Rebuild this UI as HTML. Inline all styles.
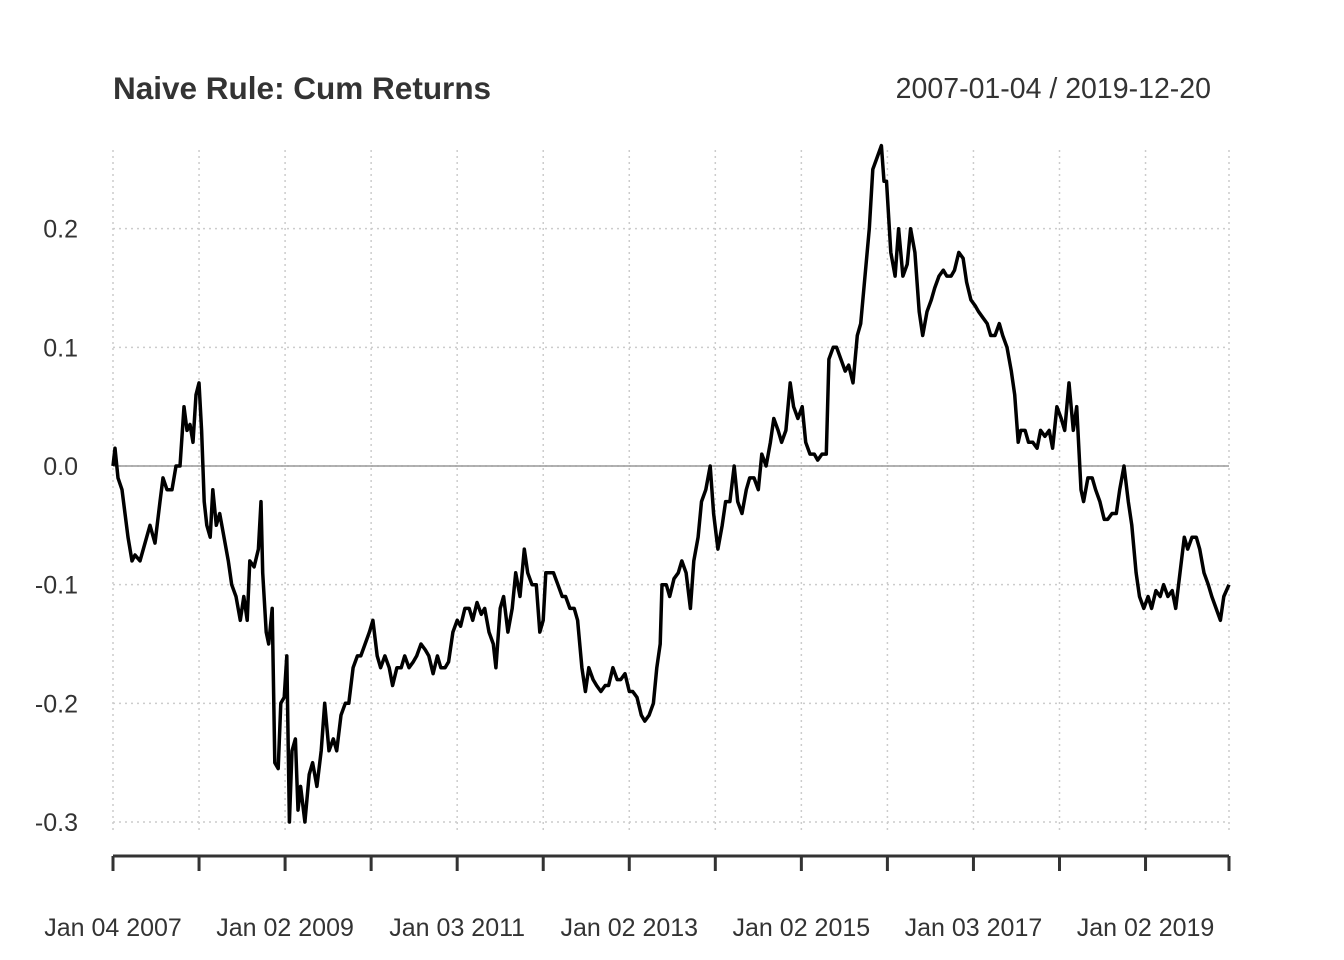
<!DOCTYPE html>
<html><head><meta charset="utf-8">
<style>
html,body{margin:0;padding:0;background:#fff;}
svg{display:block;font-family:"Liberation Sans",Arial,sans-serif;}
</style></head>
<body>
<svg id="chart" width="1344" height="960" viewBox="0 0 1344 960" xmlns="http://www.w3.org/2000/svg">
<rect width="1344" height="960" fill="#fff"/>
<text x="113" y="99" font-size="31.5" font-weight="bold" fill="#333">Naive Rule: Cum Returns</text>
<text x="1211" y="98" font-size="28.5" text-anchor="end" fill="#333">2007-01-04 / 2019-12-20</text>
<g id="grid"></g>
<g id="yaxis"></g>
<g id="xaxis"></g>
<line x1="113" x2="1229" y1="466" y2="466" stroke="#999" stroke-width="1.5"/>
<path id="series" fill="none" stroke="#000" stroke-width="3.5" stroke-linejoin="round"/>
</svg>
<script>
// years since 2007-01-04
const dates=[0,0.023,0.058,0.105,0.139,0.174,0.221,0.256,0.314,0.372,0.430,0.488,0.546,0.581,0.627,0.686,0.732,0.779,0.825,0.860,0.895,0.930,0.965,1.0,
1.03,1.06,1.09,1.13,1.16,1.20,1.24,1.29,1.34,1.38,1.43,1.48,1.52,1.56,1.59,1.64,1.69,1.72,1.74,1.78,1.81,1.85,1.88,1.92,1.95,1.99,2.02,2.05,2.08,2.12,2.15,2.18,2.23,2.28,
2.32,2.37,2.42,2.46,2.51,2.56,2.60,2.65,2.70,2.74,2.79,2.84,2.88,2.93,2.98,3.02,3.07,3.11,3.16,3.21,3.25,3.30,3.35,3.39,3.44,3.49,3.53,3.58,3.63,3.67,3.72,3.77,3.81,3.86,3.90,3.95,4.00,4.04,4.09,4.14,4.18,4.23,4.28,4.32,4.37,4.42,4.45,4.50,4.54,4.59,4.64,4.68,4.73,4.78,4.82,4.87,4.92,4.96,5.00,5.03,5.08,5.12,5.17,5.22,5.26,5.31,5.36,5.40,5.45,5.49,5.53,5.58,5.62,5.67,5.72,5.76,5.81,5.86,5.90,5.95,6.00,6.04,6.09,6.14,6.18,6.23,6.28,6.32,6.36,6.38,6.43,6.47,6.52,6.57,6.61,6.66,6.71,6.75,6.80,6.84,6.89,6.94,6.98,7.03,7.08,7.12,7.17,7.22,7.26,7.31,7.36,7.40,7.45,7.50,7.54,7.59,7.64,7.68,7.73,7.77,7.82,7.87,7.91,7.96,8.01,8.05,8.10,8.15,8.19,8.24,8.29,8.32,8.37,8.41,8.46,8.51,8.55,8.60,8.65,8.69,8.74,8.79,8.83,8.88,8.93,8.96,8.99,9.04,9.09,9.13,9.18,9.23,9.27,9.32,9.37,9.41,9.46,9.51,9.55,9.60,9.65,9.69,9.74,9.78,9.83,9.88,9.92,9.97,10.02,10.06,10.11,10.16,10.20,10.25,10.30,10.34,10.39,10.44,10.48,10.52,10.55,10.60,10.64,10.69,10.74,10.78,10.83,10.88,10.92,10.97,11.02,11.06,11.11,11.16,11.20,11.25,11.28,11.33,11.38,11.42,11.47,11.52,11.56,11.61,11.66,11.70,11.75,11.80,11.84,11.89,11.93,11.98,12.03,12.07,12.12,12.17,12.21,12.26,12.31,12.35,12.40,12.45,12.49,12.54,12.59,12.63,12.68,12.73,12.77,12.82,12.87,12.91,12.97];
const values=[0,0.015,-0.01,-0.02,-0.04,-0.06,-0.08,-0.075,-0.08,-0.065,-0.05,-0.065,-0.03,-0.01,-0.02,-0.02,0,0,0.05,0.03,0.035,0.02,0.06,0.07,
0.03,-0.03,-0.05,-0.06,-0.02,-0.05,-0.04,-0.06,-0.08,-0.1,-0.11,-0.13,-0.11,-0.13,-0.08,-0.085,-0.07,-0.03,-0.09,-0.14,-0.15,-0.12,-0.25,-0.255,-0.2,-0.195,-0.16,-0.3,-0.24,-0.23,-0.29,-0.27,-0.3,-0.26,
-0.25,-0.27,-0.24,-0.2,-0.24,-0.23,-0.24,-0.21,-0.2,-0.2,-0.17,-0.16,-0.16,-0.15,-0.14,-0.13,-0.16,-0.17,-0.16,-0.17,-0.185,-0.17,-0.17,-0.16,-0.17,-0.165,-0.16,-0.15,-0.155,-0.16,-0.175,-0.16,-0.17,-0.17,-0.165,-0.14,-0.13,-0.135,-0.12,-0.12,-0.13,-0.115,-0.125,-0.12,-0.14,-0.15,-0.17,-0.12,-0.11,-0.14,-0.12,-0.09,-0.11,-0.07,-0.09,-0.1,-0.1,-0.14,-0.13,-0.09,-0.09,-0.09,-0.1,-0.11,-0.11,-0.12,-0.12,-0.13,-0.17,-0.19,-0.17,-0.18,-0.185,-0.19,-0.185,-0.185,-0.17,-0.18,-0.18,-0.175,-0.19,-0.19,-0.195,-0.21,-0.215,-0.21,-0.2,-0.17,-0.15,-0.1,-0.1,-0.11,-0.095,-0.09,-0.08,-0.09,-0.12,-0.08,-0.06,-0.03,-0.02,0,-0.04,-0.07,-0.05,-0.03,-0.03,0,-0.03,-0.04,-0.02,-0.01,-0.01,-0.02,0.01,0,0.02,0.04,0.03,0.02,0.03,0.07,0.05,0.04,0.05,0.02,0.01,0.01,0.005,0.01,0.01,0.09,0.1,0.1,0.09,0.08,0.085,0.07,0.11,0.12,0.16,0.2,0.25,0.26,0.27,0.24,0.24,0.18,0.16,0.2,0.16,0.17,0.2,0.18,0.13,0.11,0.13,0.14,0.15,0.16,0.165,0.16,0.16,0.165,0.18,0.175,0.155,0.14,0.135,0.13,0.125,0.12,0.11,0.11,0.12,0.11,0.1,0.08,0.06,0.02,0.03,0.03,0.02,0.02,0.015,0.03,0.025,0.03,0.015,0.05,0.04,0.03,0.07,0.03,0.05,-0.02,-0.03,-0.01,-0.01,-0.02,-0.03,-0.045,-0.045,-0.04,-0.04,-0.02,0,-0.03,-0.05,-0.09,-0.11,-0.12,-0.11,-0.12,-0.105,-0.11,-0.1,-0.11,-0.105,-0.12,-0.09,-0.06,-0.07,-0.06,-0.06,-0.07,-0.09,-0.1,-0.11,-0.12,-0.13,-0.11,-0.1];
const yTicks=[0.2,0.1,0.0,-0.1,-0.2,-0.3];
const yTickLabels=["0.2","0.1","0.0","-0.1","-0.2","-0.3"];
const xTickYears=[0,1,2,3,4,5,6,7,8,9,10,11,12,12.97];
const xLabelYears=[0,2,4,6,8,10,12];
const xLabels=["Jan 04 2007","Jan 02 2009","Jan 03 2011","Jan 02 2013","Jan 02 2015","Jan 03 2017","Jan 02 2019"];

const NS="http://www.w3.org/2000/svg";
const X0=113,X1=1229,T1=12.97;
const xs=t=>X0+(t/T1)*(X1-X0);
const ys=v=>466-v*1186.7;
function mk(tag,attrs,parent){const e=document.createElementNS(NS,tag);for(const k in attrs)e.setAttribute(k,attrs[k]);parent.appendChild(e);return e;}
const grid=document.getElementById('grid'),ya=document.getElementById('yaxis'),xa=document.getElementById('xaxis');
yTicks.forEach((v,i)=>{
  const l=mk('line',{x1:X0,x2:X1,y1:ys(v),y2:ys(v),stroke:'#ccc','stroke-width':1.5,'stroke-dasharray':'2 4'},grid);
  
  
  const t=mk('text',{x:78,y:ys(v)+9,'font-size':25,'text-anchor':'end',fill:'#333'},ya);
  t.textContent=yTickLabels[i];
  
  
});
mk('line',{x1:X0,x2:X1,y1:856,y2:856,stroke:'#333','stroke-width':3},xa);
xTickYears.forEach(t=>{
  const g=mk('line',{x1:xs(t),x2:xs(t),y1:150,y2:830,stroke:'#ccc','stroke-width':1.5,'stroke-dasharray':'2 4'},grid);
  
  
  const k=mk('line',{x1:xs(t),x2:xs(t),y1:856,y2:871,stroke:'#333','stroke-width':3},xa);
  
  
});
xLabelYears.forEach((t,i)=>{
  const e=mk('text',{x:xs(t),y:936,'font-size':25,'text-anchor':'middle',fill:'#333'},xa);
  e.textContent=xLabels[i];
  
  
});
document.getElementById('series').setAttribute('d',dates.map((t,i)=>(i?'L':'M')+xs(t).toFixed(1)+' '+ys(values[i]).toFixed(1)).join(' '));
</script>
</body></html>
